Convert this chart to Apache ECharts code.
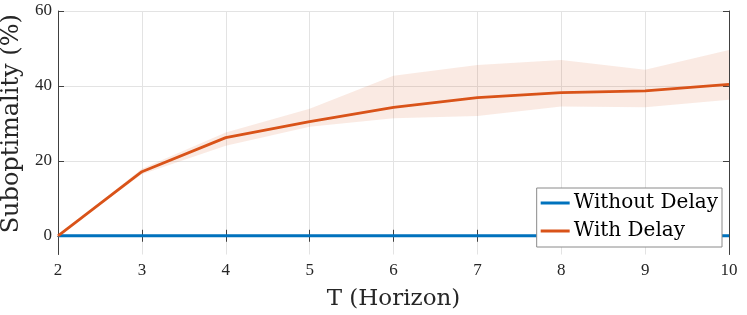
<!DOCTYPE html>
<html>
<head>
<meta charset="utf-8">
<script src="https://cdn.jsdelivr.net/npm/echarts@6/dist/echarts.min.js"></script>
<style>html,body{margin:0;padding:0;background:#fff;}#c{width:747px;height:315px;}</style>
</head>
<body>
<div id="c"></div>
<script>
const horizons = ['2', '3', '4', '5', '6', '7', '8', '9', '10'];
const withoutDelay = [0, 0, 0, 0, 0, 0, 0, 0, 0];
const withDelay = [0, 17.1, 26.2, 30.5, 34.3, 36.9, 38.2, 38.7, 40.4];
const bandUpper = [0, 17.9, 27.6, 33.9, 42.7, 45.6, 46.9, 44.3, 49.6];
const bandLower = [0, 16.4, 24.0, 29.1, 31.4, 32.0, 34.5, 34.3, 36.3];
const yTicks = [0, 20, 40, 60];

const TICKFONT = '"Liberation Serif", "DejaVu Serif", serif';
const NAMEFONT = '"DejaVu Serif", "Liberation Serif", serif';
const AXC = '#404040';
const TXT = '#262626';
const bandDiff = bandUpper.map((u, i) => +(u - bandLower[i]).toFixed(2));

const chart = echarts.init(document.getElementById('c'), null, {renderer: 'canvas'});
const baseX = {
  type: 'category', data: horizons, boundaryGap: false,
  axisLine: {show: true, lineStyle: {color: AXC, width: 1}},
  axisTick: {show: true, inside: true, length: 6, interval: 0, lineStyle: {color: AXC}},
  splitLine: {show: false}
};
const baseY = {
  type: 'value', min: -5, max: 60,
  axisLine: {show: true, lineStyle: {color: AXC, width: 1}},
  axisTick: {show: true, inside: true, length: 6, lineStyle: {color: AXC},
    customValues: yTicks},
  splitLine: {show: false}
};
chart.setOption({
  animation: false,
  grid: {left: 58, right: 18, top: 11, bottom: 60.5, containLabel: false, outerBoundsMode: 'none'},
  xAxis: [
    Object.assign({}, baseX, {
      position: 'bottom',
      name: 'T (Horizon)', nameLocation: 'middle', nameGap: 33,
      nameTextStyle: {fontFamily: NAMEFONT, fontSize: 23, color: TXT},
      axisLabel: {show: true, interval: 0, margin: 8, fontFamily: TICKFONT, fontSize: 17, color: TXT},
      splitLine: {show: true, interval: 0, lineStyle: {color: '#e3e3e3', width: 1}}
    }),
    Object.assign({}, baseX, {position: 'top', axisLabel: {show: false}})
  ],
  yAxis: [
    Object.assign({}, baseY, {
      position: 'left',
      name: 'Suboptimality (%)', nameLocation: 'middle', nameGap: 29, nameRotate: 90,
      nameTextStyle: {fontFamily: NAMEFONT, fontSize: 24, color: TXT, padding: [0, 0, 0, 18]},
      axisLabel: {show: true, margin: 6, fontFamily: TICKFONT, fontSize: 17, color: TXT,
        customValues: yTicks},
      splitLine: {show: true, lineStyle: {color: '#e3e3e3', width: 1}}
    }),
    Object.assign({}, baseY, {position: 'right', axisLabel: {show: false}})
  ],
  legend: {
    right: 25, top: 188,
    orient: 'vertical',
    data: ['Without Delay', 'With Delay'],
    backgroundColor: '#fff',
    borderColor: '#8a8a8a', borderWidth: 1, borderRadius: 0,
    padding: [5, 4, 6, 4],
    itemGap: 8,
    itemWidth: 29, itemHeight: 3,
    icon: 'rect',
    align: 'left',
    textStyle: {fontFamily: NAMEFONT, fontSize: 20, lineHeight: 20, color: '#000', padding: [0, 0, 0, -1]}
  },
  series: [
    {
      name: 'bandLow', type: 'line', stack: 'band', data: bandLower,
      symbol: 'none', lineStyle: {opacity: 0}, silent: true, z: 1
    },
    {
      name: 'bandHigh', type: 'line', stack: 'band', data: bandDiff,
      symbol: 'none', lineStyle: {opacity: 0},
      areaStyle: {color: 'rgba(217,83,25,0.12)', opacity: 1}, silent: true, z: 1
    },
    {
      name: 'Without Delay', type: 'line', data: withoutDelay,
      symbol: 'none', itemStyle: {color: '#0072BD'},
      lineStyle: {color: '#0072BD', width: 2.8}, z: 3
    },
    {
      name: 'With Delay', type: 'line', data: withDelay,
      symbol: 'none', itemStyle: {color: '#D95319'},
      lineStyle: {color: '#D95319', width: 2.8}, z: 4
    }
  ]
});
</script>
</body>
</html>
